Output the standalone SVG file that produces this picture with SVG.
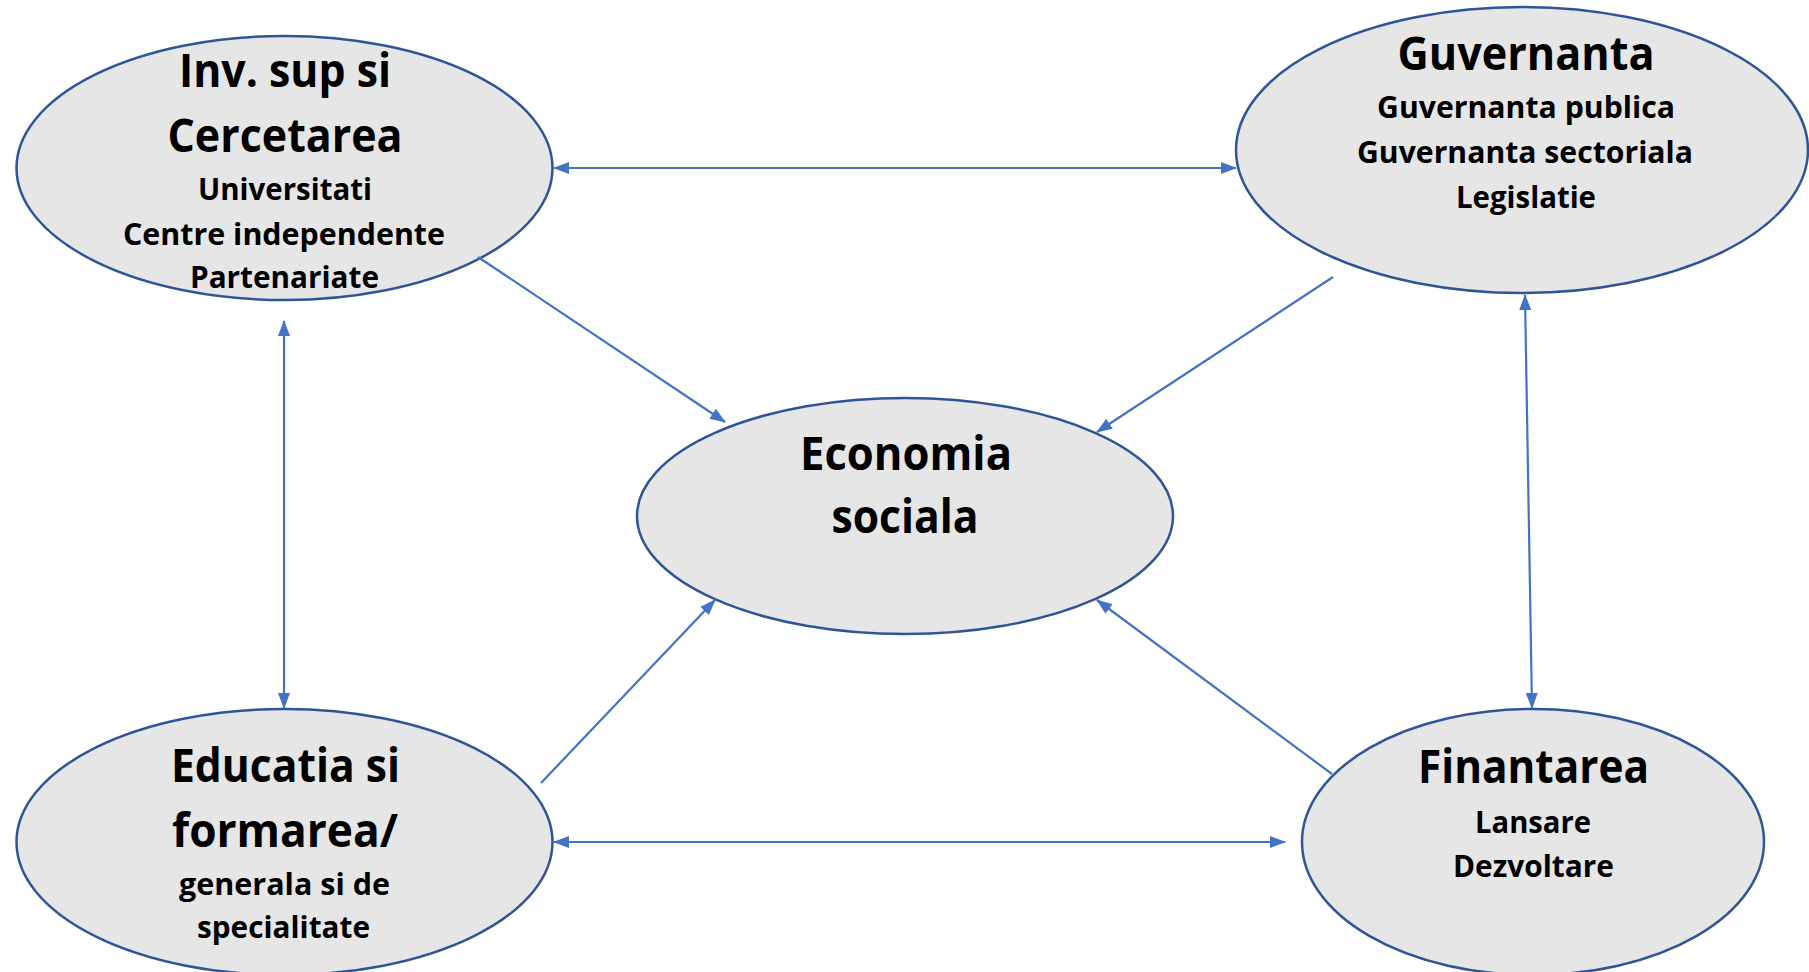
<svg xmlns="http://www.w3.org/2000/svg" width="1809" height="972" viewBox="0 0 1809 972">
<style>
.node{fill:#E7E6E6;stroke:#2F5597;stroke-width:2.5}
.conn{stroke:#4472C4;stroke-width:2.2;fill:none}
.t{font-family:"Open Sans","Noto Sans",sans-serif;font-weight:bold;fill:#000;text-anchor:middle}
.h{font-size:46px}
.s{font-size:31px}
</style>
<defs>
<marker id="ah" markerUnits="userSpaceOnUse" markerWidth="16" markerHeight="12" refX="15" refY="6" orient="auto-start-reverse">
<path d="M0,0 L16,6 L0,12 z" fill="#4472C4"/>
</marker>
</defs>
<rect width="1809" height="972" fill="#fff"/>
<g id="n-inv">
<ellipse class="node" cx="284.5" cy="168" rx="268" ry="132"/>
<text class="t h" x="285" y="87" textLength="212" lengthAdjust="spacingAndGlyphs">Inv. sup si</text>
<text class="t h" x="285" y="152" textLength="235" lengthAdjust="spacingAndGlyphs">Cercetarea</text>
<text class="t s" x="285" y="200" textLength="174" lengthAdjust="spacingAndGlyphs">Universitati</text>
<text class="t s" x="284" y="245" textLength="322" lengthAdjust="spacingAndGlyphs">Centre independente</text>
<text class="t s" x="284.5" y="288" textLength="189" lengthAdjust="spacingAndGlyphs">Partenariate</text>
</g>
<g id="n-guv">
<ellipse class="node" cx="1522" cy="150" rx="286" ry="143"/>
<text class="t h" x="1526" y="70" textLength="257" lengthAdjust="spacingAndGlyphs">Guvernanta</text>
<text class="t s" x="1526" y="118" textLength="298" lengthAdjust="spacingAndGlyphs">Guvernanta publica</text>
<text class="t s" x="1525" y="163" textLength="336" lengthAdjust="spacingAndGlyphs">Guvernanta sectoriala</text>
<text class="t s" x="1526" y="208" textLength="140" lengthAdjust="spacingAndGlyphs">Legislatie</text>
</g>
<g id="n-eco">
<ellipse class="node" cx="905" cy="516" rx="268" ry="118"/>
<text class="t h" x="906" y="470" textLength="212" lengthAdjust="spacingAndGlyphs">Economia</text>
<text class="t h" x="905" y="533" textLength="147" lengthAdjust="spacingAndGlyphs">sociala</text>
</g>
<g id="n-edu">
<ellipse class="node" cx="284.5" cy="842" rx="268" ry="133"/>
<text class="t h" x="285.5" y="782" textLength="229" lengthAdjust="spacingAndGlyphs">Educatia si</text>
<text class="t h" x="285" y="847" textLength="226" lengthAdjust="spacingAndGlyphs">formarea/</text>
<text class="t s" x="284.5" y="895" textLength="211" lengthAdjust="spacingAndGlyphs">generala si de</text>
<text class="t s" x="283.5" y="938" textLength="173" lengthAdjust="spacingAndGlyphs">specialitate</text>
</g>
<g id="n-fin">
<ellipse class="node" cx="1533" cy="842" rx="231" ry="133"/>
<text class="t h" x="1533.5" y="783" textLength="231" lengthAdjust="spacingAndGlyphs">Finantarea</text>
<text class="t s" x="1533" y="833" textLength="116" lengthAdjust="spacingAndGlyphs">Lansare</text>
<text class="t s" x="1533.5" y="877" textLength="161" lengthAdjust="spacingAndGlyphs">Dezvoltare</text>
</g>
<g id="connectors">
<line class="conn" x1="554" y1="168" x2="1236" y2="168" marker-start="url(#ah)" marker-end="url(#ah)"/>
<line class="conn" x1="284" y1="321" x2="284" y2="708" marker-start="url(#ah)" marker-end="url(#ah)"/>
<line class="conn" x1="1525" y1="295" x2="1532" y2="708" marker-start="url(#ah)" marker-end="url(#ah)"/>
<line class="conn" x1="554" y1="842" x2="1285" y2="842" marker-start="url(#ah)" marker-end="url(#ah)"/>
<line class="conn" x1="478" y1="257" x2="725" y2="422" marker-end="url(#ah)"/>
<line class="conn" x1="1333" y1="277" x2="1097" y2="432" marker-end="url(#ah)"/>
<line class="conn" x1="541" y1="783" x2="715" y2="600" marker-end="url(#ah)"/>
<line class="conn" x1="1332" y1="774" x2="1097" y2="600" marker-end="url(#ah)"/>
</g>
</svg>
